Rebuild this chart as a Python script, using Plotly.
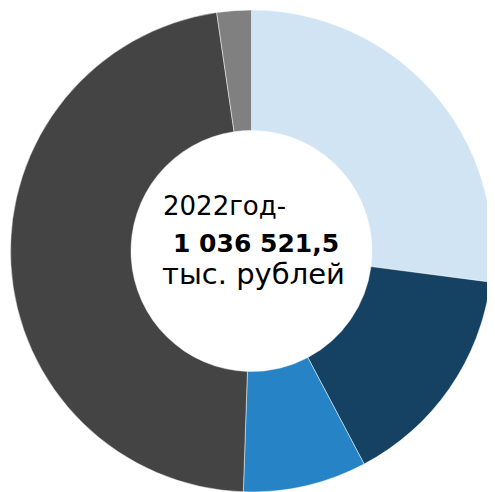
import plotly.graph_objects as go

# data (thousand rubles)
categories = ["Категория 1", "Категория 2", "Категория 3", "Категория 4", "Категория 5"]
values = [280480, 157550, 85830, 488730, 23930]
colors = ["#D0E4F4", "#154263", "#2683C6", "#444444", "#808080"]

# page body has an 8px default margin; size figure so page fits the window
W, H = 487, 484

fig = go.Figure(go.Pie(
    labels=categories,
    values=values,
    hole=0.5,
    sort=False,
    direction="clockwise",
    rotation=0,
    textinfo="none",
    hoverinfo="label+value+percent",
    marker=dict(colors=colors, line=dict(color="rgba(255,255,255,0.6)", width=0.8)),
    domain=dict(x=[1.5 / W, 485.5 / W], y=[0, 482 / H]),
    showlegend=False,
))

def px(x, y):
    return x / W, 1 - y / H

font_family = "DejaVu Sans, Verdana, sans-serif"
lines = [
    ("2022год-", 153, 198, 26),
    ("<b>1 036 521,5</b>", 163, 236, 25),
    ("тыс. рублей", 152, 266, 29),
]
for txt, x, y, size in lines:
    xp, yp = px(x, y)
    fig.add_annotation(
        x=xp, y=yp, xref="paper", yref="paper",
        text=txt, showarrow=False, xanchor="left", yanchor="middle",
        font=dict(family=font_family, size=size, color="#000000"),
    )

fig.update_layout(
    width=W, height=H,
    margin=dict(l=0, r=0, t=0, b=0),
    paper_bgcolor="white",
    plot_bgcolor="white",
)

fig.write_html("out.html")
